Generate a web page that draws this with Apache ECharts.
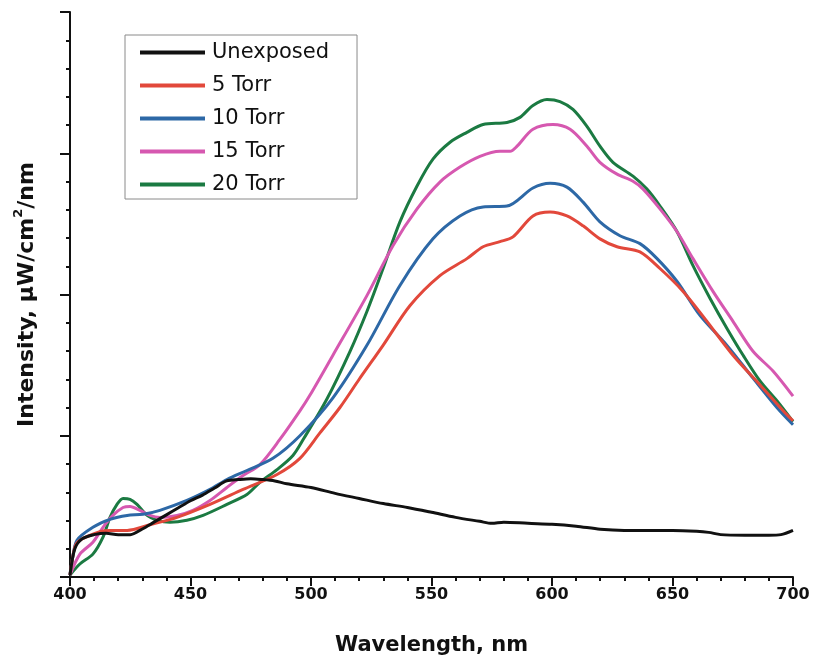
<!doctype html>
<html>
<head>
  <meta charset="utf-8" />
  <script src="https://cdn.jsdelivr.net/npm/echarts@6/dist/echarts.min.js"></script>
  <style>
    body { margin: 0; background: #ffffff; }
    #chart { width: 813px; height: 661px; }
  </style>
</head>
<body>
  <div id="chart"></div>
  <script>
    // [wavelength nm, intensity]
    const seriesNames = ["Unexposed", "5 Torr", "10 Torr", "15 Torr", "20 Torr"];
    const seriesColors = ["#111111", "#e2483b", "#2d68a6", "#d658b0", "#1b7a42"];

    const unexposed = [
      [400, 0.07], [402, 1.0], [405, 1.35], [410, 1.5], [415, 1.55], [420, 1.5], [425, 1.5],
      [430, 1.7], [435, 1.95], [440, 2.2], [445, 2.45], [450, 2.7], [455, 2.9], [460, 3.15],
      [465, 3.4], [470, 3.45], [475, 3.48], [480, 3.45], [485, 3.4], [490, 3.3], [500, 3.17],
      [510, 2.96], [520, 2.78], [530, 2.6], [540, 2.46], [550, 2.29], [560, 2.11], [570, 1.97],
      [575, 1.9], [580, 1.94], [590, 1.9], [600, 1.87], [610, 1.8], [620, 1.69], [630, 1.65],
      [640, 1.65], [650, 1.65], [660, 1.62], [665, 1.58], [670, 1.5], [680, 1.48], [690, 1.48],
      [695, 1.5], [700, 1.65]
    ];
    const torr5 = [
      [400, 0.07], [402, 1.06], [404.1, 1.3], [412.4, 1.6], [416.6, 1.65], [423.7, 1.65],
      [433.2, 1.85], [444.4, 2.11], [458.1, 2.57], [471.8, 3.1], [485.9, 3.63], [495.4, 4.2],
      [503.7, 5.1], [512, 6.0], [520, 7.0], [529.9, 8.2], [541.1, 9.61], [553.5, 10.67],
      [564.7, 11.27], [571.4, 11.69], [578.4, 11.87], [583.8, 12.04], [592.1, 12.78],
      [599.2, 12.92], [606.2, 12.78], [612.9, 12.43], [619.9, 11.97], [627, 11.69],
      [636.5, 11.51], [644.8, 10.92], [654.4, 10.11], [664.3, 9.05], [675.1, 7.85],
      [686.3, 6.8], [697.5, 5.74], [700, 5.53]
    ];
    const torr10 = [
      [400, 0.07], [400.8, 0.53], [402.9, 1.3], [409.5, 1.76], [416.6, 2.04], [423.7, 2.18],
      [430.3, 2.22], [437.3, 2.36], [448.5, 2.71], [458.1, 3.1], [465.1, 3.45], [473.4, 3.77],
      [484.2, 4.2], [495.4, 5.0], [509.1, 6.34], [523.2, 8.2], [536.9, 10.32], [550.6, 11.97],
      [561.8, 12.78], [571.4, 13.1], [581.3, 13.13], [592.1, 13.77], [599.2, 13.94],
      [606.2, 13.8], [612.9, 13.27], [619.9, 12.57], [628.2, 12.08], [636.5, 11.8],
      [643.6, 11.27], [651.9, 10.46], [661.4, 9.26], [672.6, 8.2], [683.4, 7.04],
      [693.4, 5.99], [700, 5.39]
    ];
    const torr15 = [
      [400, 0.07], [404.1, 0.81], [409.5, 1.23], [413.7, 1.76], [417.8, 2.18], [422, 2.46],
      [424.9, 2.5], [429, 2.36], [433.2, 2.18], [437.3, 2.11], [444.4, 2.18], [451, 2.36],
      [458.1, 2.71], [465.1, 3.17], [471.8, 3.59], [478.8, 3.98], [487, 4.86], [495.4, 5.88],
      [499.6, 6.44], [509.1, 7.85], [523.2, 9.96], [534, 11.73], [544, 13.03], [553.5, 13.98],
      [561.8, 14.51], [570.1, 14.89], [578.4, 15.07], [582.6, 15.07], [585.5, 15.25],
      [592.1, 15.85], [600.4, 16.02], [607.5, 15.85], [614.5, 15.25], [619.9, 14.68],
      [627, 14.26], [633.6, 14.01], [637.8, 13.73], [644.8, 13.03], [651.9, 12.22],
      [658.5, 11.27], [666.8, 10.11], [675.1, 9.05], [683.4, 7.99], [691.7, 7.29],
      [700, 6.4]
    ];
    const torr20 = [
      [400, 0.07], [404.1, 0.46], [409.5, 0.81], [413.7, 1.41], [416.6, 2.11], [419.5, 2.57],
      [422, 2.78], [424.9, 2.75], [427.8, 2.57], [432, 2.18], [436.1, 2.01], [441.5, 1.94],
      [448.5, 2.01], [455.2, 2.18], [465.1, 2.57], [473.4, 2.92], [478.8, 3.35], [485.9, 3.8],
      [492.5, 4.3], [497, 4.9], [506.6, 6.3], [516.2, 7.99], [523.2, 9.4], [529.9, 10.92],
      [536.9, 12.57], [544, 13.84], [550.6, 14.79], [557.7, 15.39], [564.7, 15.74],
      [571.4, 16.02], [581.3, 16.09], [586.7, 16.27], [592.1, 16.69], [597.9, 16.9],
      [603.3, 16.83], [608.7, 16.55], [614.5, 15.95], [619.9, 15.25], [625.3, 14.68],
      [633.6, 14.19], [639.4, 13.73], [644.8, 13.13], [651.9, 12.22], [658.5, 11.02],
      [665.6, 9.86], [672.6, 8.8], [679.3, 7.85], [686.3, 6.94], [693.4, 6.23], [700, 5.5]
    ];
    const allData = [unexposed, torr5, torr10, torr15, torr20];

    const xTicks = [400, 450, 500, 550, 600, 650, 700];

    const font = "DejaVu Sans";
    const chart = echarts.init(document.getElementById("chart"), null, { renderer: "canvas" });

    chart.setOption({
      animation: false,
      backgroundColor: "#ffffff",
      grid: { left: 70, right: 20, top: 12, bottom: 81 },
      legend: {
        orient: "vertical",
        left: 125,
        top: 35,
        data: seriesNames,
        icon: "rect",
        itemWidth: 65,
        itemHeight: 4,
        itemGap: 12,
        padding: [7, 28, 4, 15],
        borderColor: "#8a8a8a",
        borderWidth: 1,
        textStyle: { fontFamily: font, fontSize: 21, color: "#111", padding: [0, 0, 0, 2] }
      },
      xAxis: {
        type: "value",
        min: xTicks[0],
        max: xTicks[xTicks.length - 1],
        interval: 50,
        name: "Wavelength, nm",
        nameLocation: "middle",
        nameGap: 58,
        nameTextStyle: { fontFamily: font, fontSize: 21, fontWeight: "bold", color: "#111" },
        axisLine: { lineStyle: { color: "#111", width: 2 } },
        axisTick: { inside: false, length: 9, lineStyle: { color: "#111", width: 2 } },
        minorTick: { show: true, splitNumber: 5, length: 4, lineStyle: { color: "#111", width: 2 } },
        axisLabel: { fontFamily: font, fontSize: 16, fontWeight: "bold", color: "#111", margin: 10 },
        splitLine: { show: false }
      },
      yAxis: {
        type: "value",
        min: 0,
        max: 20,
        interval: 5,
        name: "{a|Intensity, μW/cm}{s|2}{a|/nm}",
        nameLocation: "middle",
        nameGap: 32,
        nameTextStyle: {
          rich: {
            a: { fontFamily: font, fontSize: 22, fontWeight: "bold", color: "#111", lineHeight: 26, verticalAlign: "bottom" },
            s: { fontFamily: font, fontSize: 13, fontWeight: "bold", color: "#111", lineHeight: 26, verticalAlign: "top" }
          }
        },
        axisLine: { show: true, lineStyle: { color: "#111", width: 2 } },
        axisTick: { show: true, inside: false, length: 10, lineStyle: { color: "#111", width: 2 } },
        minorTick: { show: true, splitNumber: 5, length: 4, lineStyle: { color: "#111", width: 2 } },
        axisLabel: { show: false },
        splitLine: { show: false }
      },
      series: seriesNames.map((name, i) => ({
        name,
        type: "line",
        data: allData[i],
        smooth: 0.3,
        showSymbol: false,
        color: seriesColors[i],
        lineStyle: { width: 3, color: seriesColors[i] },
        z: 10 - i
      }))
    });
  </script>
</body>
</html>
